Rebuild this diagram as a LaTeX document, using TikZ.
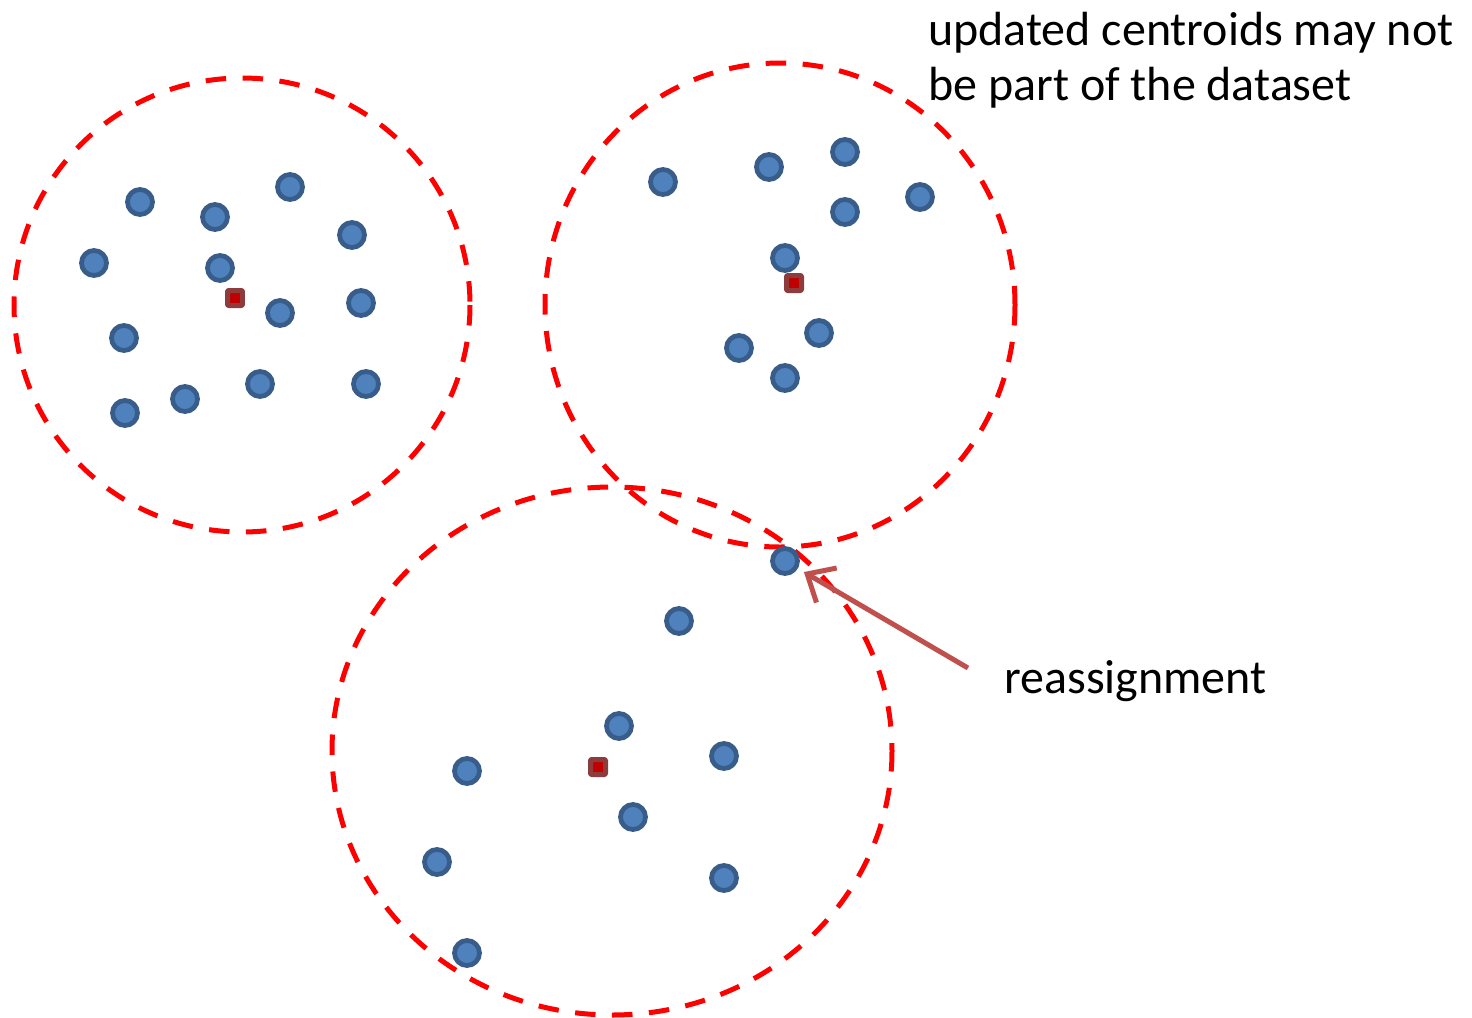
\documentclass[tikz,border=0pt]{standalone}
\usepackage{fontspec}
\setmainfont{Carlito}
\usetikzlibrary{arrows.meta}
\definecolor{ptfill}{HTML}{4F81BD}
\definecolor{ptline}{HTML}{385D8A}
\definecolor{cenline}{HTML}{8E3B3B}
\definecolor{cenfill}{HTML}{C00000}
\definecolor{arrowred}{HTML}{C0504D}
\begin{document}
\begin{tikzpicture}[x=0.02cm,y=-0.02cm,line join=round,
	pt/.style={circle,draw=ptline,fill=ptfill,line width=0.095cm,minimum size=0.5cm,inner sep=0pt},
	cen/.style={rectangle,draw=cenline,fill=cenfill,line width=0.1cm,minimum size=0.3cm,inner sep=0pt,rounded corners=0.5pt},
	ring/.style={red,line width=0.1cm,dash pattern=on 0.41cm off 0.33cm},
	lbl/.style={font=\fontsize{27.3}{31.2}\selectfont,inner sep=0pt,align=left}]
	\useasboundingbox (0,0) rectangle (1472,1018);
	% cluster rings
	\draw[ring] (242,305) ellipse [x radius=228, y radius=227];
	\draw[ring] (780,305) ellipse [x radius=235, y radius=242];
	\draw[ring] (612,751) ellipse [x radius=280, y radius=264];
	% points
	\foreach \px/\py [count=\i] in {140/202,215/217,290/187,352/235,94/263,220/268,361/303,280/313,124/338,185/399,260/384,366/384,125/413}
		\node[pt] (a\i) at (\px,\py) {};
	\foreach \px/\py [count=\i] in {663/182,769/167,845/152,845/212,920/197,785/258,819/333,739/348,785/378}
		\node[pt] (b\i) at (\px,\py) {};
	\foreach \px/\py [count=\i] in {785/561,679/621,619/726,724/756,467/771,633/817,437/862,724/878,467/953}
		\node[pt] (c\i) at (\px,\py) {};
	% centroids
	\node[cen] (ca) at (235,298) {};
	\node[cen] (cb) at (794,283) {};
	\node[cen] (cc) at (598,767) {};
	% labels
	\node[lbl,anchor=base west] (note) at (928,100) {updated centroids may not\\be part of the dataset};
	\node[lbl,anchor=base west] (reas) at (1004,693) {reassignment};
	\coordinate (tail) at (968,668);
	\draw[arrowred,line width=0.1cm,-{Straight Barb[length=0.45cm,width=0.8cm,line width=0.1cm]},shorten >=4pt] (tail) -- (c1);
\end{tikzpicture}
\end{document}
